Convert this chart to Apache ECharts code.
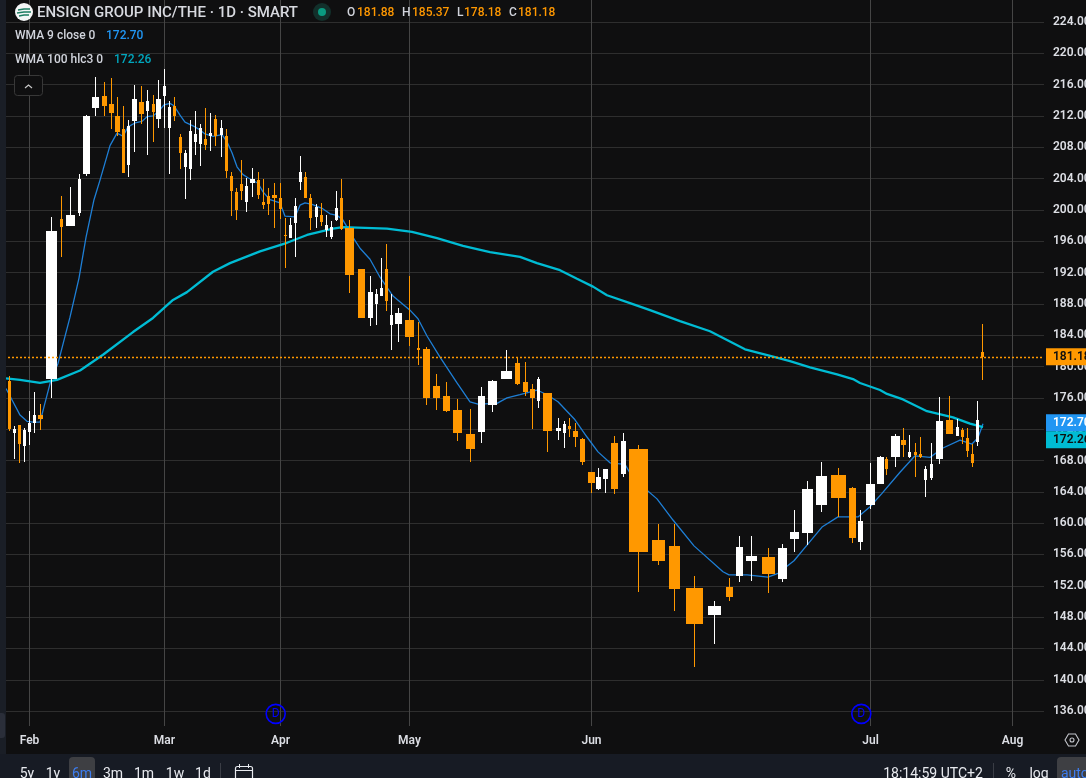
<!DOCTYPE html>
<html><head><meta charset="utf-8">
<style>html,body{margin:0;padding:0;background:#0f0f10;overflow:hidden}#c{width:1086px;height:778px}</style>
<script src="https://cdn.jsdelivr.net/npm/echarts@6/dist/echarts.min.js"></script>
</head><body><div id="c"></div>
<script>
// Equivolume chart: horizontal axis is cumulative traded volume, candle width is volume.
const cumVolume=[9.3,14.3,19.3,24.3,29.3,34.3,40.3,51.3,61.3,70.3,79.3,86.3,95.3,104.3,111.3,117.3,123.3,128.3,134.3,141.3,147.3,153.3,158.3,164.3,169.3,174.3,180.3,185.3,190.3,195.3,200.3,205.3,210.3,215.3,221.3,226.3,231.3,236.3,241.3,246.3,252.3,258.3,263.3,268.3,274.3,280.3,285.3,290.3,295.3,300.3,305.3,310.3,316.3,321.3,326.3,331.3,336.3,341.3,349.3,361.3,370.3,376.3,381.3,386.3,391.3,398.3,409.3,418.3,426.3,436.3,446.3,457.3,470.3,481.3,492.3,506.3,517.3,525.3,532.3,538.3,547.3,558.3,564.3,569.3,575.3,582.3,591.3,598.3,605.3,614.3,623.3,638.3,658.3,674.3,694.3,714.3,729.3,739.3,751.3,768.3,782.3,794.3,807.3,821.3,838.3,852.3,860.3,870.3,880.3,886.3,895.3,903.3,909.3,915.3,920.3,925.3,931.3,939.3,949.3,957.3,962.3,967.3,972.3,977.3,982.3];
const volume=[3,3,3,3,3,3,5,11,3,9,3,7,7,5,5,5,3,3,5,5,3,3,5,3,3,3,3,3,3,3,3,3,3,3,3,3,3,3,3,3,5,3,3,3,5,3,3,3,3,3,3,3,3,3,3,3,3,3,9,7,5,3,3,3,3,7,9,3,7,7,7,9,9,7,9,11,5,5,5,3,9,5,3,3,5,5,7,5,5,7,5,19,13,11,17,13,7,7,11,13,9,9,11,11,15,7,5,9,7,3,9,5,3,3,3,3,3,7,7,3,3,3,3,3,3];
const open=[178.2,171.5,172.5,169.8,171.6,172.8,173.8,178.4,198.8,197.9,199.6,204.6,213.0,214.5,213.5,212.0,210.3,205.7,211.3,213.8,212.6,213.5,211.6,214.5,210.5,213.3,209.3,205.5,205.2,208.7,208.4,209.0,209.4,211.6,209.6,209.4,204.3,202.3,203.3,201.0,203.4,203.8,201.0,201.8,201.9,201.5,196.8,196.4,198.3,203.6,204.2,201.5,199.1,199.3,197.4,196.5,198.7,201.5,197.7,192.4,186.2,188.0,189.0,192.4,185.3,185.4,185.9,182.4,182.2,177.5,176.2,174.4,171.4,171.6,175.1,178.4,180.4,178.0,177.1,175.6,176.6,171.8,171.5,172.4,171.8,170.7,166.5,164.4,165.6,170.2,166.3,169.5,157.8,157.1,151.7,148.3,151.8,153.2,155.2,155.7,152.9,158.0,158.7,162.3,166.1,164.5,157.6,162.3,165.0,168.2,168.4,170.6,168.4,169.1,168.8,165.5,165.8,168.2,173.2,171.1,171.9,170.9,168.8,170.4,181.88];
const close=[172.0,172.0,170.1,171.9,172.8,173.8,173.3,197.3,197.8,199.3,203.9,212.0,214.4,213.3,212.4,210.0,204.7,210.7,214.2,212.2,213.9,212.5,214.2,215.8,213.1,212.0,207.3,207.3,210.1,209.7,210.5,208.3,209.8,209.4,210.5,205.0,202.4,200.0,202.4,203.0,203.9,201.9,200.6,200.7,201.5,200.1,196.7,198.1,200.5,204.8,201.5,199.0,200.4,198.5,198.1,197.8,200.2,197.6,191.7,186.2,189.5,189.3,190.0,188.4,186.6,186.8,183.8,182.1,176.0,176.0,174.3,171.5,169.5,176.2,178.1,179.4,177.8,176.7,176.0,178.4,171.8,172.1,172.7,172.0,171.0,167.8,165.1,165.9,166.9,164.4,170.5,156.3,155.2,151.6,147.1,149.4,150.6,157.0,155.8,153.5,156.8,158.9,164.4,166.0,163.2,158.1,160.3,165.0,168.4,166.9,171.1,170.0,169.1,168.7,168.4,166.9,167.5,173.0,171.4,172.3,171.0,169.2,167.7,173.2,181.18];
const high=[178.8,172.4,172.5,172.1,174.3,176.7,175.2,199.1,201.8,202.9,204.6,212.1,217.0,216.3,216.8,214.4,213.3,211.5,216.0,215.8,215.3,214.7,216.6,218.0,213.9,214.4,209.7,207.6,211.5,212.6,211.0,213.0,212.4,212.1,211.5,210.3,204.8,202.8,206.4,204.1,205.3,204.8,203.9,202.8,203.4,203.4,199.0,199.0,201.5,206.9,204.8,202.0,200.7,200.9,199.3,198.6,202.4,203.9,198.7,192.4,191.6,189.9,193.9,195.6,189.3,187.5,191.6,185.7,182.5,179.0,178.0,175.8,174.6,177.4,178.3,182.1,181.2,180.6,177.8,178.7,176.6,173.4,173.0,173.4,172.8,170.9,166.5,167.0,166.9,171.1,171.5,170.0,159.9,159.9,153.2,150.1,153.0,158.4,158.4,156.8,157.3,161.7,165.4,167.8,167.0,164.6,161.7,167.7,168.6,168.4,171.4,172.1,171.2,170.2,171.0,167.3,170.2,176.1,176.2,173.3,172.1,172.1,170.1,175.6,185.37];
const low=[171.8,168.2,167.7,167.7,170.0,171.5,171.9,176.0,194.0,197.9,199.3,204.3,212.0,211.9,210.3,209.4,204.7,204.2,207.5,211.0,207.0,208.7,210.5,210.5,204.6,211.3,205.2,201.3,203.9,207.0,205.6,207.6,207.6,208.2,206.8,204.1,199.2,198.7,201.3,199.7,201.6,201.4,200.1,199.3,197.6,198.8,192.6,196.4,194.0,202.5,201.5,197.4,197.6,197.9,196.5,196.3,198.6,197.4,189.4,186.1,185.2,185.3,189.0,187.0,182.2,183.1,182.6,180.2,175.1,174.4,174.2,170.5,167.8,170.2,174.2,178.4,177.6,176.2,172.1,174.8,169.1,170.6,169.5,171.0,169.7,167.4,163.8,164.2,163.8,163.7,165.9,151.2,154.7,148.8,141.6,144.6,150.1,152.5,152.6,151.1,152.4,156.4,157.2,161.4,160.7,157.5,156.6,161.8,165.0,166.1,167.2,168.4,168.3,165.9,168.3,163.3,165.5,167.5,171.3,171.1,170.1,168.4,167.2,169.8,178.18];
const wma9Volume=[6,13,20,27,33,40,51,58,70,79,86,94,100,110,117,123,128,135,142,147,153,158,164,170,174,180,185,195,200,205,213,222,227,232,237,243,248,258,263,270,280,285,295,300,305,312,322,330,337,343,353,360,370,380,393,410,418,427,440,457,470,478,497,507,520,537,547,558,575,587,598,610,625,630,647,657,673,694,723,729,747,768,778,794,807,822,838,858,870,882,900,915,930,943,960,972,978,983];
const wma9=[177.2,175.5,173.8,173.0,172.9,172.9,178.3,180.4,186.3,191.3,196.5,201.3,203.8,208.2,209.8,209.4,210.6,211.1,211.3,211.9,212.0,212.5,213.4,213.6,213.3,212.1,211.2,210.6,210.2,209.7,209.4,209.6,208.7,207.3,205.5,204.5,204.1,203.4,202.3,201.3,200.9,199.2,199.1,200.6,200.9,200.7,200.2,199.5,199.3,198.7,196.5,195.1,193.7,191.4,189.0,187.2,186.1,183.9,181.2,177.9,175.5,175.2,175.3,176.0,176.4,177.0,176.4,175.5,173.2,171.0,169.1,167.7,167.5,166.4,164.2,163.1,160.4,157.1,153.8,153.4,153.4,153.1,153.6,155.2,157.2,159.5,160.8,160.8,162.1,163.8,166.5,168.6,168.4,169.6,170.6,170.1,170.9,172.7];
const wma100Volume=[6,20,40,57,80,103,133,153,173,187,213,230,260,287,307,333,343,387,412,437,463,490,520,537,560,577,593,607,630,650,680,710,745,775,790,810,837,853,860,880,887,903,927,953,970,983];
const wma100=[178.5,178.3,177.9,178.3,179.5,181.5,184.4,186.2,188.5,189.5,192.1,193.2,194.7,195.8,196.8,197.6,197.8,197.6,197.2,196.4,195.4,194.6,194.0,193.2,192.3,191.2,190.2,189.1,188.1,187.2,185.8,184.5,182.2,181.2,180.7,179.9,179.0,178.4,177.9,177.0,176.5,175.8,174.3,173.5,172.7,172.26];
const monthTicks=[29.5,164.5,280.5,409.5,591.5,870.5,1012.5];
const monthNames=['Feb','Mar','Apr','May','Jun','Jul','Aug'];
const priceTicks=[136,140,144,148,152,156,160,164,168,172,176,180,184,188,192,196,200,204,208,212,216,220,224];
const dividendVolume=[275.7,861.3];
const dividendPrice=[135.65,135.65];
const lastPrice=181.18, lastWma9=172.70, lastWma100=172.26;
const ORANGE='#ff9800',WHITE='#ffffff',BLUE='#1e7fd6',TEAL='#00bcd4',FONT='Roboto, "Noto Sans", sans-serif',TXT='#dcdee4';

const candleData=cumVolume.map((v,i)=>[v,volume[i],open[i],close[i],high[i],low[i]]);
function renderCandle(params,api){
  const x=api.value(0),o=api.value(2),c=api.value(3);
  const color=c<o?ORANGE:WHITE;
  const w=Math.round(api.size([api.value(1),0])[0]);
  const cx=Math.floor(api.coord([x,o])[0]);
  const yO=api.coord([x,o])[1],yC=api.coord([x,c])[1],yH=api.coord([x,api.value(4)])[1],yL=api.coord([x,api.value(5)])[1];
  const top=Math.round(Math.min(yO,yC)),bot=Math.round(Math.max(yO,yC));
  return {type:'group',children:[
    {type:'rect',shape:{x:cx,y:Math.round(yH),width:1,height:Math.round(yL-yH)},style:{fill:color}},
    {type:'rect',shape:{x:cx-(w-1)/2,y:top,width:w,height:Math.max(1,bot-top)},style:{fill:color}}
  ]};
}
function tagLine(val,bg,fg,off,lineStyle){
  return {silent:true,symbol:'none',animation:false,lineStyle:lineStyle,
    data:[{yAxis:val,lineStyle:lineStyle,label:{show:true,position:'end',distance:2,formatter:val.toFixed(2),backgroundColor:bg,color:fg,
      fontFamily:FONT,fontSize:12,fontWeight:600,width:33,height:17,lineHeight:17,padding:[0,0,0,7],align:'left',offset:[0,off]}}]};
}
const txt=(x,y,t,color,size,extra)=>({type:'text',x:x,y:y,z:50,silent:true,style:Object.assign({text:t,fill:color,fontFamily:FONT,fontSize:size||12,textVerticalAlign:'middle',textAlign:'left',verticalAlign:'middle'},extra||{})});
const mid={textAlign:'center',align:'center'};
const bold={fontWeight:500};
const graphics=[
  {type:'rect',z:40,silent:true,shape:{x:0,y:0,width:6,height:754},style:{fill:'#1a1e26'}},
  {type:'rect',z:41,silent:true,shape:{x:0,y:713,width:5,height:25,r:[0,3,3,0]},style:{fill:'#2a2e39'}},
  {type:'rect',z:40,silent:true,shape:{x:0,y:754,width:1086,height:24},style:{fill:'#171b24'}},
  {type:'circle',z:50,silent:true,shape:{cx:24,cy:12,r:9},style:{fill:'#f4f6f6'}},
  {type:'polyline',z:51,silent:true,shape:{points:[[18,10],[24,9],[30,9]]},style:{stroke:'#1c7d62',lineWidth:1.3,fill:null}},
  {type:'polyline',z:51,silent:true,shape:{points:[[17,13],[24,12],[31,12]]},style:{stroke:'#1c7d62',lineWidth:1.3,fill:null}},
  {type:'polyline',z:51,silent:true,shape:{points:[[19,16],[24,15],[29,15]]},style:{stroke:'#1c7d62',lineWidth:1.3,fill:null}},
  txt(37,13,'ENSIGN GROUP INC/THE · 1D · SMART','#d8dae0',15,bold),
  {type:'circle',z:50,silent:true,shape:{cx:322,cy:12,r:9},style:{fill:'#12302b'}},
  {type:'circle',z:51,silent:true,shape:{cx:322,cy:12,r:4},style:{fill:'#0a9a80'}},
  txt(347,13,'O','#d1d4dc',12,bold),txt(357,13,'181.88',ORANGE,12,bold),
  txt(402,13,'H','#d1d4dc',12,bold),txt(412,13,'185.37',ORANGE,12,bold),
  txt(457,13,'L','#d1d4dc',12,bold),txt(464,13,'178.18',ORANGE,12,bold),
  txt(509,13,'C','#d1d4dc',12,bold),txt(518,13,'181.18',ORANGE,12,bold),
  txt(15,36,'WMA 9 close 0','#d1d4dc',12,bold),
  txt(106,36,'172.70','#2196f3',12,bold),
  txt(15,60,'WMA 100 hlc3 0','#d1d4dc',12,bold),
  txt(114,60,'172.26','#00a6bd',12,bold),
  {type:'rect',z:50,silent:true,shape:{x:14.5,y:75.5,width:28,height:20,r:3},style:{fill:'#0f0f10',stroke:'#383838',lineWidth:1}},
  {type:'polyline',z:51,silent:true,shape:{points:[[25,88],[28.5,85],[32,88]]},style:{stroke:'#c8c8c8',lineWidth:1.2,fill:null}},
  {type:'polygon',z:50,silent:true,shape:{points:[[1065,740],[1068.5,734],[1075.5,734],[1079,740],[1075.5,746],[1068.5,746]]},style:{fill:null,stroke:'#c4c6cc',lineWidth:1.1}},
  {type:'circle',z:50,silent:true,shape:{cx:1072,cy:740,r:2},style:{fill:null,stroke:'#c4c6cc',lineWidth:1.1}},
  {type:'rect',z:41,silent:true,shape:{x:69,y:757,width:26,height:30,r:4},style:{fill:'#3e3f43'}},
  txt(27,774,'5y','#e8eaef',14,mid),txt(53,774,'1y','#e8eaef',14,mid),txt(82,774,'6m','#3d7df0',14,mid),
  txt(113,774,'3m','#e8eaef',14,mid),txt(144,774,'1m','#e8eaef',14,mid),txt(175,774,'1w','#e8eaef',14,mid),txt(203,774,'1d','#e8eaef',14,mid),
  {type:'rect',z:41,silent:true,shape:{x:220,y:763,width:1,height:15},style:{fill:'#3a3d45'}},
  {type:'rect',z:41,silent:true,shape:{x:235.5,y:766.5,width:17,height:16,r:2},style:{fill:null,stroke:'#e8eaef',lineWidth:1.2}},
  {type:'rect',z:41,silent:true,shape:{x:236,y:770,width:16,height:1},style:{fill:'#e8eaef'}},
  {type:'rect',z:41,silent:true,shape:{x:239,y:764,width:1,height:4},style:{fill:'#e8eaef'}},
  {type:'rect',z:41,silent:true,shape:{x:248,y:764,width:1,height:4},style:{fill:'#e8eaef'}},
  txt(933,774,'18:14:59 UTC+2','#e8eaef',14,mid),
  {type:'rect',z:41,silent:true,shape:{x:993,y:763,width:1,height:15},style:{fill:'#3a3d45'}},
  txt(1011,774,'%','#e8eaef',14,mid),txt(1039,774,'log','#e8eaef',14,mid),
  {type:'rect',z:41,silent:true,shape:{x:1057,y:757,width:40,height:30,r:4},style:{fill:'#3e3f43'}},
  txt(1061,774,'auto','#3d7df0',14)
];
const chart=echarts.init(document.getElementById('c'),null,{renderer:'canvas',width:1086,height:778});
const hiddenLine={color:'rgba(0,0,0,0)',width:1,opacity:1};
chart.setOption({
  backgroundColor:'#0f0f10',animation:false,
  grid:{left:0,right:42,top:0,bottom:52,containLabel:false,outerBoundsMode:'none'},
  xAxis:{type:'value',min:0,max:1044,
    axisLine:{show:false},
    axisTick:{show:false,customValues:monthTicks},
    splitLine:{show:true,lineStyle:{color:'#454545',width:1}},
    axisLabel:{show:true,customValues:monthTicks,margin:9,color:TXT,fontFamily:FONT,fontSize:12,fontWeight:600,
      formatter:v=>monthNames[monthTicks.indexOf(v)]}},
  yAxis:{type:'value',position:'right',min:134.1,max:226.8,scale:true,
    axisLine:{show:false},
    axisTick:{show:false,customValues:priceTicks},
    splitLine:{show:true,lineStyle:{color:'#2e2e2e',width:1}},
    axisLabel:{show:true,customValues:priceTicks,margin:9,color:TXT,fontFamily:FONT,fontSize:12,fontWeight:600,padding:[2,0,0,0],
      formatter:v=>v.toFixed(2)}},
  series:[
    {name:'WMA 9',type:'line',z:3,showSymbol:false,symbol:'none',silent:true,clip:false,
      data:wma9.map((p,i)=>[wma9Volume[i],p]),lineStyle:{color:BLUE,width:1.3},
      markLine:tagLine(lastWma9,'#2196f3','#ffffff',-1,hiddenLine)},
    {name:'WMA 100',type:'line',z:3,showSymbol:false,symbol:'none',silent:true,clip:false,
      data:wma100.map((p,i)=>[wma100Volume[i],p]),lineStyle:{color:TEAL,width:2.3},
      markLine:tagLine(lastWma100,'#00bcd4','#0f0f10',12.5,hiddenLine)},
    {name:'Price',type:'custom',z:4,silent:true,clip:false,renderItem:renderCandle,
      encode:{x:0,y:[2,3,4,5]},data:candleData,itemStyle:{color:ORANGE},
      markLine:tagLine(lastPrice,ORANGE,'#0f0f10',-0.5,{color:'#ff9800',type:[2,2],width:1.4,opacity:1})},
    {name:'Dividends',type:'scatter',z:5,silent:true,symbol:'circle',symbolSize:19,
      data:dividendVolume.map((v,i)=>[v,dividendPrice[i]]),
      itemStyle:{color:'rgba(0,0,0,0)',borderColor:'#0000ff',borderWidth:1.6,opacity:1},
      label:{show:true,position:'inside',formatter:'D',color:'#0000ff',fontFamily:FONT,fontSize:12,opacity:1}}
  ],
  graphic:{elements:graphics}
});
</script></body></html>
